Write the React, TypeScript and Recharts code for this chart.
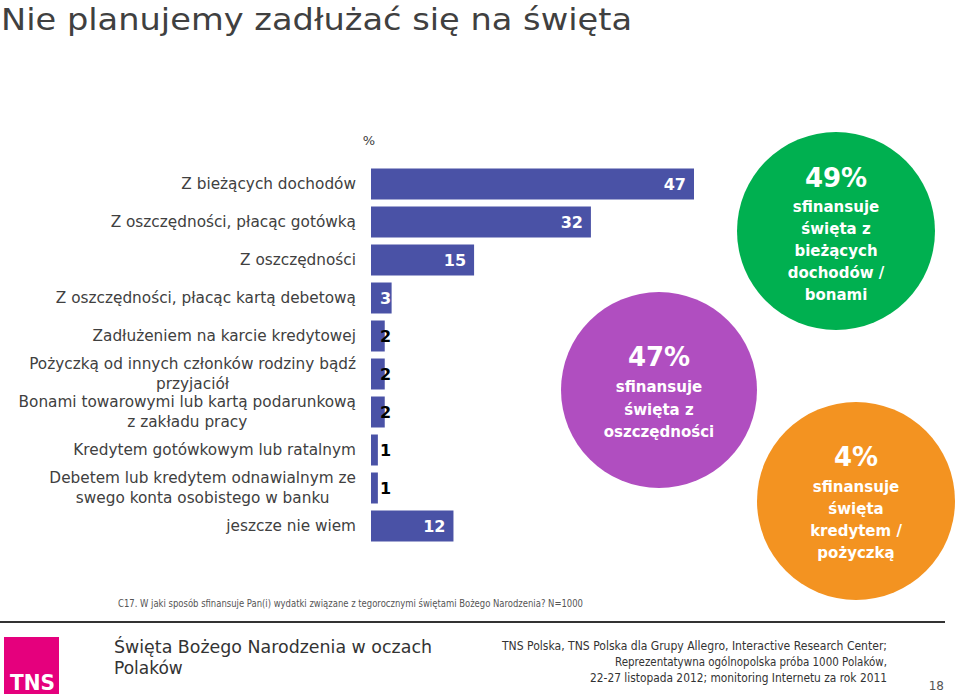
import React from 'react';
import { BarChart, Bar, XAxis, YAxis, LabelList } from 'recharts';

const categories = [
  'Z bieżących dochodów',
  'Z oszczędności, płacąc gotówką',
  'Z oszczędności',
  'Z oszczędności, płacąc kartą debetową',
  'Zadłużeniem na karcie kredytowej',
  'Pożyczką od innych członków rodziny bądź\nprzyjaciół',
  'Bonami towarowymi lub kartą podarunkową\nz zakładu pracy',
  'Kredytem gotówkowym lub ratalnym',
  'Debetem lub kredytem odnawialnym ze\nswego konta osobistego w banku',
  'jeszcze nie wiem',
];
const values = [47, 32, 15, 3, 2, 2, 2, 1, 1, 12];

const titleText = 'Nie planujemy zadłużać się na święta';
const unitText = '%';
const circleGreen = ['49%', 'sfinansuje', 'święta z', 'bieżących', 'dochodów /', 'bonami'];
const circlePurple = ['47%', 'sfinansuje', 'święta z', 'oszczędności'];
const circleOrange = ['4%', 'sfinansuje', 'święta', 'kredytem /', 'pożyczką'];
const questionText = 'C17. W jaki sposób sfinansuje Pan(i) wydatki związane z tegorocznymi świętami Bożego Narodzenia? N=1000';
const footerTitle = ['Święta Bożego Narodzenia w oczach', 'Polaków'];
const footerSource = [
  'TNS Polska, TNS Polska dla Grupy Allegro, Interactive Research Center;',
  'Reprezentatywna ogólnopolska próba 1000 Polaków,',
  '22-27 listopada 2012; monitoring Internetu za rok 2011',
];
const pageNumber = '18';

const data = categories.map((name, i) => ({ name, value: values[i] }));

const FONT = 'DejaVu Sans, Verdana, sans-serif';
const LABEL_SIZE = 15.3;
const BAR_COLOR = '#4A52A6';

let ctx: CanvasRenderingContext2D | null = null;
const measure = (t: string) => {
  if (!ctx) {
    ctx = document.createElement('canvas').getContext('2d');
  }
  if (!ctx) return t.length * 8;
  ctx.font = `${LABEL_SIZE}px "DejaVu Sans"`;
  return ctx.measureText(t).width;
};

const CategoryTick = (props: any) => {
  const { x, y, payload } = props;
  const lines: string[] = String(payload.value).split('\n');
  const style = { fontFamily: FONT, fontSize: LABEL_SIZE, fill: '#404040' };
  if (lines.length === 1) {
    return (
      <text x={x} y={y} dy="0.35em" textAnchor="end" {...style}>
        {lines[0]}
      </text>
    );
  }
  const w = Math.max(...lines.map(measure));
  const cx = x - w / 2;
  const lh = 20;
  return (
    <g>
      {lines.map((l, i) => (
        <text key={i} x={cx} y={y + (i - (lines.length - 1) / 2) * lh} dy="0.35em" textAnchor="middle" {...style}>
          {l}
        </text>
      ))}
    </g>
  );
};

const ValueLabel = (props: any) => {
  const { x, y, width, height, value } = props;
  const big = value >= 10;
  const tx = big ? x + width - 8 : x + 9;
  const fill = value >= 3 ? '#ffffff' : '#000000';
  return (
    <text
      x={tx}
      y={y + height / 2}
      dy="0.36em"
      textAnchor={big ? 'end' : 'start'}
      fontFamily={FONT}
      fontWeight="bold"
      fontSize={16}
      fill={fill}
    >
      {value}
    </text>
  );
};

const Bubble = ({ cx, cy, r, color, lines, firstY, lineH, bigY }: any) => (
  <g>
    <circle cx={cx} cy={cy} r={r} fill={color} />
    <text x={cx} y={bigY} dy="0.36em" textAnchor="middle" fontFamily={FONT} fontWeight="bold" fontSize={26} fill="#fff">
      {lines[0]}
    </text>
    {lines.slice(1).map((l: string, i: number) => (
      <text key={i} x={cx} y={firstY + i * lineH} dy="0.36em" textAnchor="middle" fontFamily={FONT} fontWeight="bold" fontSize={15} fill="#fff">
        {l}
      </text>
    ))}
  </g>
);

export default function App() {
  return (
    <div style={{ position: 'absolute', left: 0, top: 0, width: 959, height: 694, background: '#fff', overflow: 'hidden' }}>
      <div style={{ position: 'absolute', left: 0, top: 0 }}>
        <BarChart
          width={959}
          height={694}
          data={data}
          layout="vertical"
          margin={{ top: 164.5, right: 265, bottom: 149.5, left: 0 }}
        >
          <XAxis type="number" domain={[0, 47]} hide />
          <YAxis
            type="category"
            dataKey="name"
            width={371}
            tickLine={false}
            axisLine={false}
            tickSize={0}
            tickMargin={15}
            interval={0}
            tick={<CategoryTick />}
          />
          <Bar dataKey="value" fill={BAR_COLOR} barSize={31} isAnimationActive={false}>
            <LabelList dataKey="value" content={<ValueLabel />} />
          </Bar>
        </BarChart>
      </div>
      <svg width={959} height={694} style={{ position: 'absolute', left: 0, top: 0, pointerEvents: 'none' }}>
        <text x={1} y={30} fontFamily={FONT} fontSize={31} fill="#404040" textLength={631} lengthAdjust="spacingAndGlyphs">
          {titleText}
        </text>
        <text x={369} y={140} dy="0.35em" textAnchor="middle" fontFamily={FONT} fontSize={13} fill="#404040">
          {unitText}
        </text>
        <Bubble cx={836} cy={231} r={99} color="#00B050" lines={circleGreen} bigY={178} firstY={207} lineH={22} />
        <Bubble cx={659} cy={390} r={98} color="#B04EC0" lines={circlePurple} bigY={357} firstY={387} lineH={22.5} />
        <Bubble cx={856} cy={501} r={99} color="#F39321" lines={circleOrange} bigY={457} firstY={487} lineH={22} />

        <text x={118} y={607} fontFamily={FONT} fontSize={10} fill="#555" textLength={465} lengthAdjust="spacingAndGlyphs">
          {questionText}
        </text>
        <line x1={0} y1={622} x2={945} y2={622} stroke="#333" strokeWidth={2} />
        <rect x={4} y={637} width={55} height={57} fill="#E5007D" />
        <text x={10} y={690} fontFamily={FONT} fontWeight="bold" fontSize={21} fill="#fff" textLength={45} lengthAdjust="spacingAndGlyphs">
          TNS
        </text>
        <text x={114} y={653} fontFamily={FONT} fontSize={17} fill="#333" textLength={318} lengthAdjust="spacingAndGlyphs">
          {footerTitle[0]}
        </text>
        <text x={114} y={674} fontFamily={FONT} fontSize={17} fill="#333">
          {footerTitle[1]}
        </text>
        {footerSource.map((l, i) => (
          <text key={i} x={887} y={650 + i * 16} textAnchor="end" fontFamily={FONT} fontSize={12} fill="#333"
            textLength={[385, 272, 297][i]} lengthAdjust="spacingAndGlyphs">
            {l}
          </text>
        ))}
        <text x={944} y={690} textAnchor="end" fontFamily={FONT} fontSize={12} fill="#555">
          {pageNumber}
        </text>
      </svg>
    </div>
  );
}
